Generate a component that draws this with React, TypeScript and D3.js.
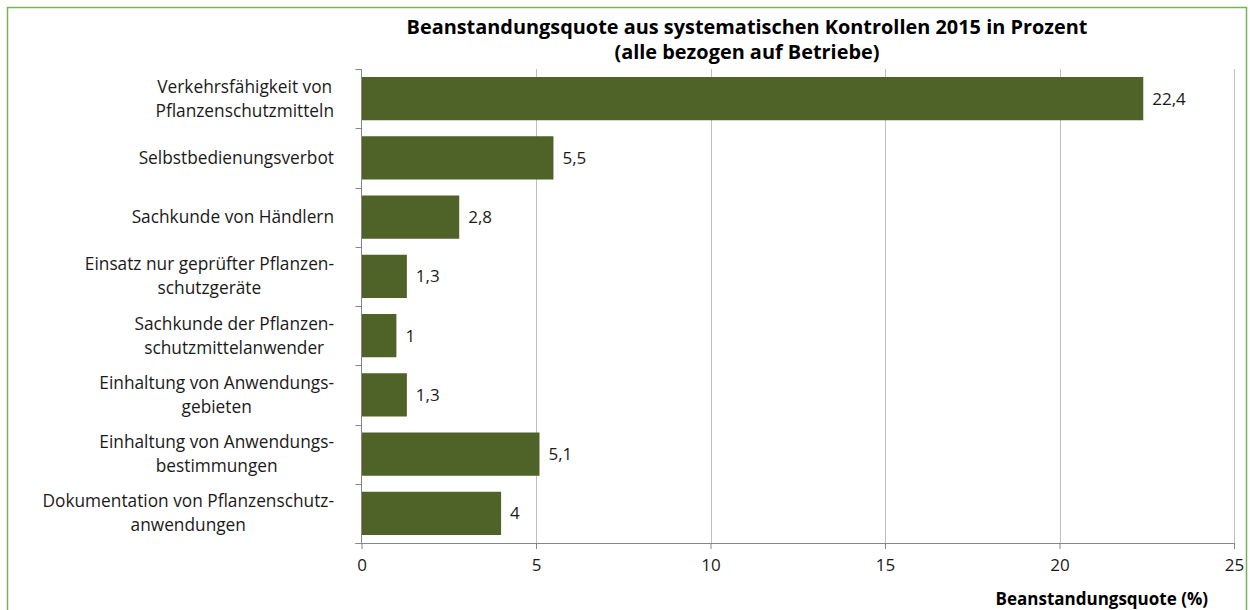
import React, { useEffect, useRef } from "react";
import * as d3 from "d3";

const categories: string[][] = [
  ["Verkehrsfähigkeit von", "Pflanzenschutzmitteln"],
  ["Selbstbedienungsverbot"],
  ["Sachkunde von Händlern"],
  ["Einsatz nur geprüfter Pflanzen-", "schutzgeräte"],
  ["Sachkunde der Pflanzen-", "schutzmittelanwender"],
  ["Einhaltung von Anwendungs-", "gebieten"],
  ["Einhaltung von Anwendungs-", "bestimmungen"],
  ["Dokumentation von Pflanzenschutz-", "anwendungen"],
];
const values: number[] = [22.4, 5.5, 2.8, 1.3, 1, 1.3, 5.1, 4];
const xTicks: number[] = [0, 5, 10, 15, 20, 25];
const titleLines: string[] = [
  "Beanstandungsquote aus systematischen Kontrollen 2015 in Prozent",
  "(alle bezogen auf Betriebe)",
];
const axisTitle = "Beanstandungsquote (%)";

const W = 1250;
const H = 610;
const FONT = "'Open Sans', Lato, sans-serif";

export default function App() {
  const ref = useRef<SVGSVGElement | null>(null);

  useEffect(() => {
    const svg = d3.select(ref.current);
    svg.selectAll("*").remove();

    const left = 361.5;
    const right = 1234;
    const top = 69;
    const bottom = 543;

    const x = d3.scaleLinear().domain([0, 25]).range([left, right]);
    const idx = categories.map((_, i) => String(i));
    const y = d3.scaleBand().domain(idx).range([top, bottom]).paddingInner(0.27).paddingOuter(0.135);

    // border
    svg.append("rect")
      .attr("x", 7.5).attr("y", 7.5).attr("width", 1239).attr("height", 610)
      .attr("fill", "white").attr("stroke", "#77b255").attr("stroke-width", 1.5);

    // gridlines
    svg.append("g").selectAll("line").data(xTicks.filter(t => t > 0)).join("line")
      .attr("x1", d => Math.round(x(d)) + 0.5).attr("x2", d => Math.round(x(d)) + 0.5)
      .attr("y1", top).attr("y2", bottom)
      .attr("stroke", "#bfbfbf").attr("stroke-width", 1);

    // bars
    svg.append("g").selectAll("rect").data(values).join("rect")
      .attr("x", x(0)).attr("y", (_, i) => y(String(i))!)
      .attr("width", d => x(d) - x(0)).attr("height", y.bandwidth())
      .attr("fill", "#4f6228");

    // value labels
    svg.append("g").selectAll("text").data(values).join("text")
      .attr("x", d => x(d) + 9).attr("y", (_, i) => y(String(i))! + y.bandwidth() / 2)
      .attr("dy", "0.35em")
      .attr("font-family", FONT).attr("font-size", 17).attr("fill", "#1a1a1a")
      .text(d => String(d).replace(".", ","));

    // x axis
    const xAxis = d3.axisBottom(x).tickValues(xTicks).tickSize(6).tickSizeOuter(0).tickPadding(10);
    const gx = svg.append("g").attr("transform", `translate(0,${bottom})`).call(xAxis);
    gx.select(".domain").attr("stroke", "#868686").attr("d", `M${left - 6},0.5H${right}`);
    gx.selectAll(".tick line").attr("stroke", "#868686");
    gx.selectAll(".tick text").attr("font-family", FONT).attr("font-size", 17).attr("fill", "#1a1a1a");

    // y axis
    svg.append("line").attr("x1", left).attr("x2", left).attr("y1", top).attr("y2", bottom)
      .attr("stroke", "#868686");
    const stepY = (bottom - top) / categories.length;
    svg.append("g").selectAll("line").data(d3.range(categories.length + 1)).join("line")
      .attr("x1", left - 6).attr("x2", left)
      .attr("y1", d => Math.round(top + d * stepY) + 0.5).attr("y2", d => Math.round(top + d * stepY) + 0.5)
      .attr("stroke", "#868686");

    // category labels: block right-aligned, lines centered within block
    const labelRight = 334;
    const lineH = 24;
    categories.forEach((lines, i) => {
      const cy = y(String(i))! + y.bandwidth() / 2;
      const g = svg.append("g");
      const texts = lines.map((ln, j) =>
        g.append("text")
          .attr("font-family", FONT).attr("font-size", 17.3).attr("fill", "#1a1a1a")
          .attr("text-anchor", "middle")
          .attr("y", cy + (j - (lines.length - 1) / 2) * lineH)
          .attr("dy", "0.35em")
          .text(ln)
      );
      const widths = texts.map(t => (t.node() as SVGTextElement).getComputedTextLength());
      const maxW = Math.max(...widths);
      texts.forEach(t => t.attr("x", labelRight - maxW / 2));
    });

    // title
    svg.append("g").selectAll("text").data(titleLines).join("text")
      .attr("x", 747).attr("y", (_, i) => 27 + i * 25).attr("dy", "0.35em")
      .attr("text-anchor", "middle").attr("font-family", FONT).attr("font-size", 19.9)
      .attr("font-weight", "bold").attr("fill", "#000")
      .text(d => d);

    // axis title
    svg.append("text").attr("x", 1208).attr("y", 599).attr("dy", "0.35em")
      .attr("text-anchor", "end").attr("font-family", FONT).attr("font-size", 17)
      .attr("font-weight", "bold").attr("fill", "#000").text(axisTitle);
  }, []);

  return (
    <svg ref={ref} width={W} height={H} style={{ position: "absolute", left: 0, top: 0 }} />
  );
}
